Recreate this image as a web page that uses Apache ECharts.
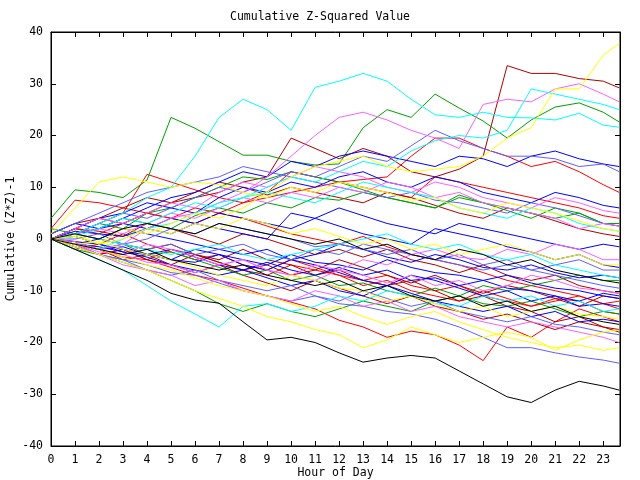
<!DOCTYPE html>
<html lang="en">

<head>
  <meta charset="UTF-8">
  <title>Cumulative Z-Squared Value</title>
  <script src="https://cdn.jsdelivr.net/npm/echarts@6/dist/echarts.min.js"></script>
</head>

<body style="margin:0">
  <div id="chart" style="width: 640px;height: 480px;"></div>
  <script>
    // hour of day for each sample
    const hours = [0, 1, 2, 3, 4, 5, 6, 7, 8, 9, 10, 11, 12, 13, 14, 15, 16, 17, 18, 19, 20, 21, 22, 23, 23.67]
    const yTicks = [-40, -30, -20, -10, 0, 10, 20, 30, 40]

    const redRuns = [
      [0, -1.5, -3, -2, -4, -5.5, -7, -8, -9.5, -11, -12.2, -13.5, -15.7, -17, -19, -17.8, -18.5, -20.5, -23.5, -17, -19, -16, -13.5, -15, -16],
      [2, 7.5, 7, 6, 5, 4, 3, 5, 4, 2.5, 1, 0, -1, 0.5, -1.5, -3, -4, -5, -6.5, -8, -9, -10, -11, -12.5, -13.5],
      [0, 1, 3, 5, 12.5, 11, 9.5, 8, 7, 9, 13, 12, 11, 10, 9, 8, 12, 11, 10, 9, 8, 7, 6, 4.5, 4],
      [0, -1, -2, -3.5, -4, -2, -3, -4.5, -6, -7, -5, -6, -7, -8, -7, -9, -10, -9, -11, -12, -13, -11.5, -12, -14, -14.5],
      [0, 2, 1, 3, 5, 4, 6, 5, 7, 8, 9, 10, 11, 11.5, 12, 16, 19.5, 19.5, 17.5, 16, 14, 15, 13, 10.5, 9],
      [0, -2, -1, 1, -1, -2.5, -4, -3, -5, -6, -4, -5.5, -7, -9, -8, -10, -11, -12, -10, -11.5, -13, -12, -11, -12.5, -12]
    ]
    const darkRedRuns = [
      [0, 2, 4, 3, 5, 7, 8, 9, 11, 12, 19.5, 17.5, 15.5, 17.5, 16, 13, 12, 13.5, 16, 33.5, 32, 32, 31, 30.5, 29.2],
      [0, 1, 0, -1, -2, -1, -3, -4, -2, -4, -5, -7, -6, -8, -9, -8, -10, -12, -11, -13, -14, -16, -15, -17, -18],
      [1, 3, 4, 6, 8, 7, 9, 11, 10, 8.5, 10, 9, 8, 7, 9, 8, 6.5, 5, 4, 6, 5, 3.5, 2, 1, 0.5],
      [0, -1, -3, -2, -4, -5, -3, -4.5, -6, -5, -7, -6, -4, -5.5, -7, -8.5, -7, -9, -10.5, -9, -10, -11.5, -13, -11, -11.5],
      [0, 2, 1.5, 0.5, 3, 2, 0.5, -1, 1, 0, -1.5, -3, -2, -3.5, -2, -4, -5, -6.5, -5, -7, -8, -7, -9, -10, -10.5],
      [0, -0.5, -2, -4, -3, -5, -6.5, -5, -7, -8.5, -10, -8, -9.5, -11, -12.5, -11, -13, -14, -15.5, -14.5, -16, -17.5, -16, -17, -17.5]
    ]
    const greenRuns = [
      [4, 9.5, 9, 8, 11.4, 23.5, 21.4, 18.8, 16.2, 16.2, 15, 14.3, 14.5, 21.5, 25, 23.5, 28, 25.3, 22.8, 19.5, 23, 25.5, 26.3, 24.5, 22.6],
      [0, -2, -3, -4.5, -6, -8, -10, -12.5, -14, -12.5, -14, -15, -13.5, -12, -13, -14, -12, -11, -9, -10, -9, -8, -7, -8, -8],
      [0, 1, 2, 4, 3, 2, 4.5, 6, 5, 7, 6, 8, 7.5, 9, 8, 7, 6, 8, 7, 6, 5, 4, 5, 3, 3],
      [0, -1, -2, -1, -3, -2.5, -4, -5.5, -7, -6, -8, -7, -9, -8.5, -10, -11, -9.5, -11, -12.5, -13, -12, -13.5, -15, -14, -14.5],
      [2, 1, 3, 2, 5, 6, 8, 10, 12, 11.5, 13, 12, 11, 9.5, 8, 7, 6, 8.5, 7, 5.5, 4, 6, 5, 3, 2.5]
    ]
    const blueRuns = [
      [0, -1, -1.5, -2.5, -3, -4, -4.5, -3, -5, -6, -4, -5, -6.5, -8, -9, -7, -8, -9.5, -11, -10, -12, -11, -13, -12.5, -13],
      [1, 3, 2, 4, 6, 8, 9, 11, 13, 12, 15, 14, 16, 17, 16, 15, 14, 16, 15.5, 14, 16, 17, 15.5, 14.5, 14],
      [0, 0.5, -1, -2, -3, -2, -3.5, -5, -6, -4.5, -6, -7, -5.5, -7, -6, -8, -7.5, -9, -8, -9.5, -10, -11, -12, -10.5, -11],
      [0, 2, 4, 5, 7, 6, 5, 8, 10, 9, 11, 10, 12, 13, 11, 10, 12, 11, 9, 8, 7, 9, 8, 6.5, 6],
      [0, -1, -2, -1.5, -3, -4, -2, -3, -4, -5, -3, -4.5, -5, -6, -4, -5.5, -6.5, -7, -8, -7, -8.5, -9.5, -10, -11, -11.5],
      [0, 1, 2, 3, 2, 1, 3, 5, 4, 3, 2, 4, 6, 4.5, 3, 2, 1, 3, 2, 1, 0, -1, -2, -1, -1.5],
      [0, -0.5, -1, -2.5, -3.5, -5, -6, -7, -6, -7.5, -9, -8, -10, -11, -9, -10.5, -12, -13, -14, -13, -15, -14, -16, -15.5, -16],
      [0, 1.5, 1, 0.5, 2, 4, 3, 2, 1, 0, 5, 4, 2.5, 1, 0, -1, 2, 1, 0, -1.5, -2.5, -4, -3, -5, -5.5],
      [0, -1, 0, 2, 1, 0, -1, -2, -3, -2, -4, -3, -1, -2, -3.5, -4.5, -3, -4, -5.5, -6, -5, -6.5, -7.5, -7, -7.5]
    ]
    const lightBlueRuns = [
      [0, -1.5, -3, -4, -5, -6.5, -7, -8.5, -10, -11, -12, -11, -12.5, -13, -14, -14.5, -15.5, -17, -19, -21, -21, -22, -22.8, -23.4, -24],
      [0, 1, 3, 5, 4, 6, 8, 10, 9, 11, 13, 12, 14, 16, 15, 18, 21, 19, 17.5, 16, 16, 15.5, 14, 14.5, 13],
      [0, -1, -2, -1, 0, 2, 1, 3, 2, 1, 0, -1.5, -1, -2, -3, -2, -4, -5, -6, -5, -6, -7, -8, -9, -9.5],
      [1, 3, 5, 7, 9, 10, 11, 12, 14, 13, 12, 11, 10, 9, 8, 9, 7.5, 7, 6, 5, 7, 6, 4.5, 3, 2.5],
      [0, -1, -3, -4, -6, -7, -6, -8, -9, -10, -9, -11, -12, -10, -11.5, -13, -12, -14, -15, -16, -15, -16.5, -17, -18, -18.5],
      [0, 0, 1, -1, -2, -1, -3, -2, -1, -3, -4, -2, -3, -1, -2, -3, -4, -3, -5, -4, -6, -5, -4, -6, -6]
    ]
    const magentaRuns = [
      [0, -1, -2, -1, 2, 4, 5, 7, 9, 12, 16, 20, 23.5, 24.5, 23, 21, 19.5, 17.5, 26, 27, 26.5, 29, 30, 28, 26.5],
      [0, -1, -2.5, -3, -4.5, -5, -6.5, -5, -4, -6, -7, -5, -6, -4, -5, -3, -2, -3.5, -4, -2, -3, -1, -2, -4, -4],
      [0, 1, 2, 1, 3, 5, 4, 6, 8, 7, 9, 8, 10, 9, 11, 10, 8, 9, 7, 6, 5, 4, 2, 3, 2.5],
      [0, -0.5, -2, -3, -1, -2, -3.5, -5, -4, -6, -7, -8, -6, -7, -8.5, -7, -9, -8, -10, -9, -7, -8, -9.5, -10, -10.5],
      [0, 2, 4, 3, 5, 7, 6, 9, 11, 10, 12, 14, 13, 12, 10, 9, 11, 10, 8, 7, 6, 8, 7, 5.5, 5],
      [0, -1, -3, -5, -6, -7, -9, -8, -10, -11, -12, -10, -11, -13, -12, -14, -13, -15, -16, -17, -16, -17, -18, -19, -20]
    ]
    const cyanRuns = [
      [0, 1, 3, 5, 8, 10, 16, 23.5, 27, 25, 21, 29.3, 30.5, 32, 30.5, 27, 24, 23.5, 24.5, 23.5, 23.4, 23, 24.3, 22, 21.6],
      [0, -1, -2, 0, 2, 3, 5, 7, 8, 10, 12, 11, 13, 15, 14, 17, 19, 20, 19.5, 21, 29, 28, 27, 26, 25],
      [0, -2, -4, -6, -9, -12, -14.5, -17, -13, -12.5, -14, -13, -11, -12, -10, -11, -12.5, -13, -11, -12, -11, -13, -12, -14, -13.5],
      [0, 1, 0, -1, -2, -3, -2, -1, -3, -4, -3, -2, -1, 0, 1, -1, -2, -1, -3, -4, -3, -5, -6, -7, -7.5],
      [0, 0.5, 2, 4, 3, 5, 7, 6, 8, 9, 8, 7, 9, 11, 10, 9, 8, 6, 5, 4, 6, 5, 3, 2, 1.5]
    ]
    const yellowRuns = [
      [0, 1, -1, 2, 1, 3, 5, 4, 6, 9, 12, 14, 15, 16, 14, 13, 13.5, 14, 16, 19.5, 21.5, 29, 29, 35.5, 37.8],
      [0, -1.5, -3, -4.5, -6, -8, -10, -11.5, -13, -15, -16, -17.5, -18.5, -21, -19.5, -17, -18.5, -20, -19, -18, -19, -21.5, -19.5, -18, -17.6],
      [0, -1, -2, -3.5, -5, -6, -7.5, -9, -10, -11, -12.5, -14, -13, -15, -16.5, -15, -14, -16, -17.5, -19, -20, -21, -20.5, -21.5, -21],
      [1, 6, 11, 12, 11, 10, 11, 10.5, 9, 8, 10, 9, 11, 10, 9, 7.5, 8, 6, 5, 7, 6, 5, 3.5, 2, 1.5],
      [0, -1, -0.5, -2, -3, -4, -5.5, -7, -8, -9, -7, -8, -9.5, -10, -12, -11, -12.5, -14, -13, -15, -14, -13, -14.5, -15, -15.5],
      [0, 0.5, -1, 0, 2, 1, 3, 2, 4, 3, 1, 2, 0.5, -1, 0, -2, -1, -3, -2, -1, -2.5, -4, -3, -5, -5]
    ]
    const blackRuns = [
      [0, -2, -4, -6, -8, -10.5, -11.8, -12.4, -16, -19.5, -19, -20, -22, -23.8, -23, -22.5, -23, -25.5, -28, -30.5, -31.6, -29.2, -27.5, -28.4, -29.2],
      [0, -1, -2, -3, -2, -4, -5, -6, -5, -7, -8, -9, -8, -10, -9, -11, -12, -11, -13, -12, -14, -13, -15, -16, -16.5],
      [0, 1, 0, 2, 3, 2, 1, 3, 2, 1, 0, -1, 0, -2, -1, -3, -4, -2, -3, -5, -4, -6, -7, -8, -8.5]
    ]

    const groups = [
      { runs: redRuns, color: '#ff0000' },
      { runs: darkRedRuns, color: '#b00000' },
      { runs: greenRuns, color: '#00a000' },
      { runs: blueRuns, color: '#0000ff' },
      { runs: lightBlueRuns, color: '#6060ff' },
      { runs: magentaRuns, color: '#ff60ff' },
      { runs: cyanRuns, color: '#00ffff' },
      { runs: yellowRuns, color: '#ffff00' },
      { runs: blackRuns, color: '#000000' }
    ]

    const series = []
    groups.forEach(g => {
      g.runs.forEach(run => {
        series.push({
          type: 'line',
          data: run.map((v, i) => [hours[i], v]),
          showSymbol: false,
          silent: true,
          lineStyle: { width: 1, color: g.color }
        })
      })
    })

    const font = 'DejaVu Sans Mono'
    const tickStyle = { inside: true, length: 5, lineStyle: { color: '#000' } }
    const lineStyle = { onZero: false, lineStyle: { color: '#000' } }

    const myChart = echarts.init(document.getElementById('chart'))
    myChart.setOption({
      animation: false,
      backgroundColor: '#fff',
      title: {
        text: 'Cumulative Z-Squared Value',
        left: 'center',
        top: 6,
        textStyle: { fontFamily: font, fontSize: 11.5, fontWeight: 'normal', color: '#000' }
      },
      grid: {
        left: 51, right: 20, top: 32, bottom: 34,
        outerBoundsMode: 'none', containLabel: false,
        show: true, borderColor: '#000', borderWidth: 1
      },
      xAxis: [
        {
          type: 'value', min: 0, max: 23.7, interval: 1,
          name: 'Hour of Day', nameLocation: 'middle', nameGap: 21, nameMoveOverlap: false,
          nameTextStyle: { fontFamily: font, fontSize: 11.5, color: '#000' },
          axisLine: lineStyle,
          axisTick: tickStyle,
          splitLine: { show: false },
          axisLabel: {
            fontFamily: font, fontSize: 11.5, color: '#000', margin: 8,
            formatter: v => Number.isInteger(v) ? String(v) : ''
          }
        },
        {
          type: 'value', position: 'top', min: 0, max: 23.7, interval: 1,
          axisLine: lineStyle,
          axisTick: tickStyle, axisLabel: { show: false }, splitLine: { show: false }
        }
      ],
      yAxis: [
        {
          type: 'value', min: yTicks[0], max: yTicks[yTicks.length - 1], interval: 10,
          name: 'Cumulative (Z*Z)-1', nameLocation: 'middle', nameGap: 34, nameMoveOverlap: false,
          nameTextStyle: { fontFamily: font, fontSize: 11.5, color: '#000' },
          axisLine: lineStyle,
          axisTick: tickStyle,
          splitLine: { show: false },
          axisLabel: { fontFamily: font, fontSize: 11.5, color: '#000', margin: 8 }
        },
        {
          type: 'value', position: 'right', min: yTicks[0], max: yTicks[yTicks.length - 1], interval: 10,
          axisLine: lineStyle,
          axisTick: tickStyle, axisLabel: { show: false }, splitLine: { show: false }
        }
      ],
      series: series
    })
  </script>
</body>

</html>
